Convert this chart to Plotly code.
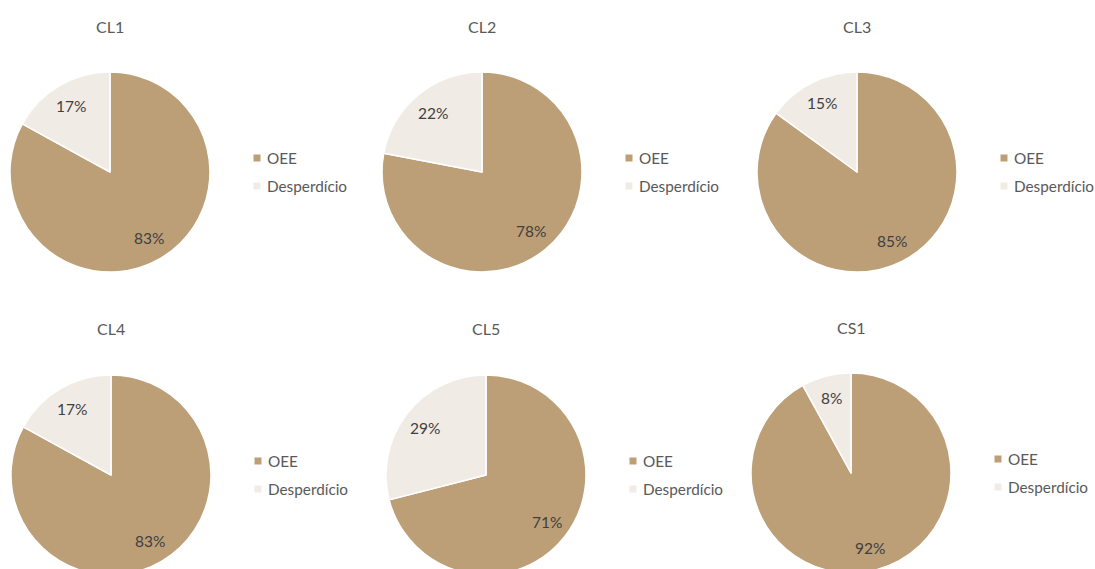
import math
import plotly.graph_objects as go

# OEE breakdown per production line (percent)
lines = ["CL1", "CL2", "CL3", "CL4", "CL5", "CS1"]
labels = ["OEE", "Desperdício"]
oee = [83, 78, 85, 83, 71, 92]
waste = [17, 22, 15, 17, 29, 8]
colors = ["#BC9F77", "#F1EBE5"]

W, H = 1095, 581
R = 100
# pie centres in pixels (x, y from top)
centres = [(110, 172), (482, 172), (857, 172), (111, 475), (486, 475), (851, 473)]
title_y = [27, 27, 27, 328, 328, 327]

FONT = "Lato, 'Open Sans', sans-serif"
TXT = "#595959"
LABEL_R = 0.77  # data labels sit at this fraction of the radius


def px(x):
    return x / W


def py(y):
    return 1 - y / H


fig = go.Figure()
shapes = []
annotations = []

for i, name in enumerate(lines):
    cx, cy = centres[i]
    vals = [oee[i], waste[i]]
    fig.add_trace(go.Pie(
        labels=labels,
        values=vals,
        name=name,
        sort=False,
        direction="clockwise",
        rotation=0,
        marker=dict(colors=colors, line=dict(color="white", width=1.5)),
        textinfo="none",
        domain=dict(x=[px(cx - R), px(cx + R)], y=[py(cy + R), py(cy - R)]),
        showlegend=False,
        hoverinfo="label+percent",
    ))

    # percentage labels along each slice bisector (clockwise from 12 o'clock)
    total = sum(vals)
    start = 0.0
    for v in vals:
        mid = (start + v / 2) / total * 2 * math.pi
        start += v
        annotations.append(dict(
            text=f"{round(v / total * 100)}%",
            x=px(cx + LABEL_R * R * math.sin(mid)),
            y=py(cy - LABEL_R * R * math.cos(mid)),
            xref="paper", yref="paper", showarrow=False,
            xanchor="center", yanchor="middle",
            font=dict(family=FONT, size=15.5, color="#404040"),
        ))

    # chart title
    annotations.append(dict(
        text=name, x=px(cx), y=py(title_y[i]), xref="paper", yref="paper",
        showarrow=False, xanchor="center", yanchor="middle",
        font=dict(family=FONT, size=16, color=TXT),
    ))

    # legend: small square swatch + label per category
    lx, ly = cx + 147, cy - 14
    for k, lab in enumerate(labels):
        yy = ly + 28 * k
        shapes.append(dict(
            type="rect", xref="paper", yref="paper",
            x0=px(lx - 3.5), x1=px(lx + 3.5), y0=py(yy + 3.5), y1=py(yy - 3.5),
            fillcolor=colors[k], line=dict(width=0),
        ))
        annotations.append(dict(
            text=lab, x=px(lx + 8), y=py(yy), xref="paper", yref="paper",
            showarrow=False, xanchor="left", yanchor="middle",
            font=dict(family=FONT, size=15.3, color=TXT),
        ))

fig.update_layout(
    width=W, height=H,
    margin=dict(l=0, r=0, t=0, b=0),
    paper_bgcolor="white",
    plot_bgcolor="white",
    shapes=shapes,
    annotations=annotations,
)

fig.write_html(
    "out.html",
    post_script="document.documentElement.style.overflow='hidden';"
                "document.body.style.overflow='hidden';"
                "document.body.style.margin='0';",
)
